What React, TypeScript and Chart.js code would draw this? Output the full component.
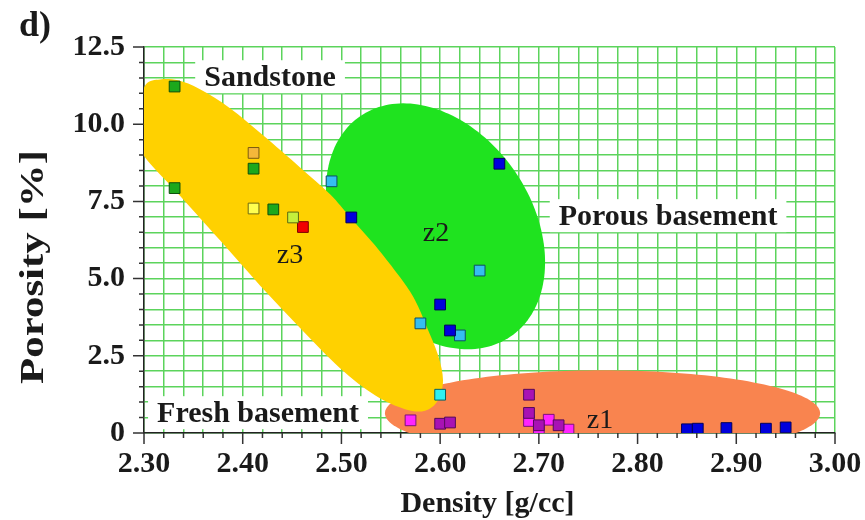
import React, { useEffect, useRef } from 'react';
import { Chart, registerables } from 'chart.js';

Chart.register(...registerables);

const FONT = '"Liberation Serif", "Times New Roman", serif';

// ---- data (density g/cc, porosity %) ----
const greenPts = [[2.331, 11.22], [2.331, 7.93], [2.411, 8.56], [2.431, 7.24]];
const orangePts = [[2.411, 9.07]];
const paleYellowPts = [[2.411, 7.27]];
const limePts = [[2.451, 6.98]];
const redPts = [[2.461, 6.67]];
const bluePts = [
  [2.51, 6.98], [2.66, 8.72], [2.60, 4.16], [2.61, 3.32],
  [2.85, 0.12], [2.861, 0.14], [2.89, 0.16], [2.93, 0.14], [2.95, 0.18],
];
const lightBluePts = [[2.49, 8.15], [2.64, 5.26], [2.58, 3.55], [2.62, 3.16]];
const cyanPts = [[2.60, 1.24]];
const purplePts = [[2.60, 0.30], [2.61, 0.34], [2.69, 1.24], [2.69, 0.65], [2.70, 0.25], [2.72, 0.25]];
const magentaPts = [[2.57, 0.41], [2.69, 0.39], [2.70, 0.12], [2.71, 0.43], [2.73, 0.11]];

// axis
const xMin = 2.3, xMax = 3.0, xStep = 0.02, xLabelStep = 0.1;
const yMin = 0, yMax = 12.5, yStep = 0.5, yLabelStep = 2.5;

// zones: centre + two conjugate semi-axis vectors, in data units
const zoneFresh = { cx: 2.7645, cy: 0.638, ax: 0.2204, ay: 0, bx: 0, by: 1.392, color: '#F9844F' };
const zonePorous = { cx: 2.5953, cy: 6.694, ax: 0.076, ay: -3.572, bx: 0.0809, by: 1.758, color: '#1FE31F' };
// sandstone zone outline (density, porosity), smoothed closed curve
const zoneSandOutline = [
  [2.2939, 10.51], [2.3020, 11.29], [2.3162, 11.45], [2.3344, 11.42], [2.3567, 11.13],
  [2.3871, 10.52], [2.4206, 9.64], [2.4581, 8.60], [2.4885, 7.73], [2.5087, 6.99],
  [2.5340, 6.08], [2.5594, 5.04], [2.5746, 4.30], [2.5867, 3.42], [2.5979, 2.52],
  [2.6029, 1.71], [2.5979, 1.06], [2.5847, 0.72], [2.5644, 0.77], [2.5340, 1.22],
  [2.4986, 2.10], [2.4581, 3.40], [2.4175, 4.78], [2.3770, 6.24], [2.3314, 7.86],
  [2.3010, 8.93], [2.2919, 9.64],
];
const sandColor = '#FFD100';

// text labels (centre x, baseline y in data units)
const boxedLabels = [
  { text: 'Sandstone', x: 2.4277, y: 11.23 },
  { text: 'Porous basement', x: 2.8309, y: 6.73 },
  { text: 'Fresh basement', x: 2.4155, y: 0.35 },
];
const zoneLabels = [
  { text: 'z1', x: 2.762, y: 0.15 },
  { text: 'z2', x: 2.5958, y: 6.23 },
  { text: 'z3', x: 2.4479, y: 5.52 },
];

const isMult = (v: number, s: number) => Math.abs(v / s - Math.round(v / s)) < 1e-6;

function smoothClosed(ctx: any, P: number[][]) {
  const n = P.length;
  ctx.beginPath();
  ctx.moveTo(P[0][0], P[0][1]);
  for (let i = 0; i < n; i++) {
    const p0 = P[(i - 1 + n) % n], p1 = P[i], p2 = P[(i + 1) % n], p3 = P[(i + 2) % n];
    const c1x = p1[0] + (p2[0] - p0[0]) / 6, c1y = p1[1] + (p2[1] - p0[1]) / 6;
    const c2x = p2[0] - (p3[0] - p1[0]) / 6, c2y = p2[1] - (p3[1] - p1[1]) / 6;
    ctx.bezierCurveTo(c1x, c1y, c2x, c2y, p2[0], p2[1]);
  }
  ctx.closePath();
}

const annotPlugin = {
  id: 'annot',
  beforeDatasetsDraw(chart: any) {
    const { ctx, chartArea: a, scales } = chart;
    const x = scales.x, y = scales.y;
    ctx.save();
    ctx.beginPath();
    ctx.rect(a.left, a.top, a.right - a.left, a.bottom - a.top);
    ctx.clip();
    // white boxes
    ctx.font = `bold 30px ${FONT}`;
    for (const l of boxedLabels) {
      const px = x.getPixelForValue(l.x), py = y.getPixelForValue(l.y);
      const w = ctx.measureText(l.text).width;
      ctx.fillStyle = '#ffffff';
      ctx.fillRect(px - w / 2 - 9, py - 26, w + 18, 33);
    }
    for (const z of [zoneFresh, zonePorous]) {
      const cx = x.getPixelForValue(z.cx), cy = y.getPixelForValue(z.cy);
      const Ax = x.getPixelForValue(z.cx + z.ax) - cx, Ay = y.getPixelForValue(z.cy + z.ay) - cy;
      const Bx = x.getPixelForValue(z.cx + z.bx) - cx, By = y.getPixelForValue(z.cy + z.by) - cy;
      ctx.beginPath();
      const N = 180;
      for (let i = 0; i <= N; i++) {
        const t = (i / N) * Math.PI * 2;
        const px = cx + Ax * Math.cos(t) + Bx * Math.sin(t);
        const py = cy + Ay * Math.cos(t) + By * Math.sin(t);
        if (i === 0) ctx.moveTo(px, py); else ctx.lineTo(px, py);
      }
      ctx.closePath();
      ctx.fillStyle = z.color;
      ctx.fill();
    }
    smoothClosed(ctx, zoneSandOutline.map(([dx, dy]) => [x.getPixelForValue(dx), y.getPixelForValue(dy)]));
    ctx.fillStyle = sandColor;
    ctx.fill();
    ctx.restore();
    ctx.save();
    ctx.fillStyle = '#1a1a1a';
    ctx.textAlign = 'center';
    ctx.textBaseline = 'alphabetic';
    ctx.font = `bold 30px ${FONT}`;
    for (const l of boxedLabels) {
      ctx.fillText(l.text, x.getPixelForValue(l.x), y.getPixelForValue(l.y));
    }
    ctx.font = `28px ${FONT}`;
    for (const l of zoneLabels) {
      ctx.fillText(l.text, x.getPixelForValue(l.x), y.getPixelForValue(l.y));
    }
    ctx.restore();
  },
  afterDraw(chart: any) {
    const { ctx, chartArea: a, scales } = chart;
    const x = scales.x, y = scales.y;
    ctx.save();
    ctx.strokeStyle = '#333';
    ctx.lineWidth = 1.5;
    ctx.beginPath();
    for (const t of x.ticks) {
      const px = x.getPixelForValue(t.value);
      const len = isMult(t.value, xLabelStep) ? 11 : 5;
      ctx.moveTo(px, a.bottom);
      ctx.lineTo(px, a.bottom + len);
    }
    for (const t of y.ticks) {
      const py = y.getPixelForValue(t.value);
      const len = isMult(t.value, yLabelStep) ? 11 : 5;
      ctx.moveTo(a.left, py);
      ctx.lineTo(a.left - len, py);
    }
    ctx.stroke();
    // titles
    ctx.fillStyle = '#1a1a1a';
    ctx.textBaseline = 'alphabetic';
    ctx.textAlign = 'center';
    ctx.font = `bold 30px ${FONT}`;
    ctx.fillText('Density [g/cc]', (a.left + a.right) / 2 - 2, 512);
    ctx.save();
    ctx.translate(43, (a.top + a.bottom) / 2 + 27);
    ctx.rotate(-Math.PI / 2);
    ctx.scale(1.3, 1);
    ctx.font = `bold 33px ${FONT}`;
    ctx.fillText('Porosity [%]', 0, 0);
    ctx.restore();
    ctx.textAlign = 'left';
    ctx.font = `bold 36px ${FONT}`;
    ctx.fillText('d)', 19, 36);
    ctx.restore();
  },
};

function ds(label: string, pts: number[][], fill: string, stroke: string) {
  return {
    label,
    data: pts.map(([px, py]) => ({ x: px, y: py })),
    backgroundColor: fill,
    borderColor: stroke,
    borderWidth: 1,
    pointStyle: 'rect',
    pointRadius: 7.6,
    pointHoverRadius: 7.6,
  };
}

export default function App() {
  const ref = useRef<HTMLCanvasElement>(null);
  useEffect(() => {
    if (!ref.current) return;
    const chart = new Chart(ref.current, {
      type: 'scatter',
      data: {
        datasets: [
          ds('green', greenPts, '#1CA81C', '#0C4F0C'),
          ds('orange', orangePts, '#F5B73A', '#7A5A10'),
          ds('paleYellow', paleYellowPts, '#FFFF50', '#6E6A10'),
          ds('lime', limePts, '#C4F03C', '#5A6A10'),
          ds('red', redPts, '#F20000', '#7A0000'),
          ds('blue', bluePts, '#0000DD', '#00005A'),
          ds('lightBlue', lightBluePts, '#35BEF0', '#0E4E66'),
          ds('cyan', cyanPts, '#2EF0F0', '#0B5F5F'),
          ds('purple', purplePts, '#A812B4', '#55085A'),
          ds('magenta', magentaPts, '#FF24FF', '#7A127A'),
        ],
      },
      options: {
        responsive: false,
        animation: false,
        events: [],
        layout: { padding: { top: 47, right: 30, left: 0, bottom: 0 } },
        plugins: { legend: { display: false }, tooltip: { enabled: false } },
        scales: {
          x: {
            type: 'linear',
            min: xMin,
            max: xMax,
            afterFit: (s: any) => { s.height = 87; },
            ticks: {
              stepSize: xStep,
              autoSkip: false,
              maxRotation: 0,
              minRotation: 0,
              padding: 2,
              color: '#1a1a1a',
              font: { family: FONT, size: 30, weight: 'bold' },
              callback: (v: any) => (isMult(Number(v), xLabelStep) ? Number(v).toFixed(2) : ''),
            },
            grid: { color: '#5CD45C', lineWidth: 1.5, tickLength: 11, tickColor: 'rgba(0,0,0,0)' },
            border: { color: '#222', width: 1.5 },
          },
          y: {
            type: 'linear',
            min: yMin,
            max: yMax,
            afterFit: (s: any) => { s.width = 144; },
            ticks: {
              stepSize: yStep,
              autoSkip: false,
              padding: 8,
              color: '#1a1a1a',
              font: { family: FONT, size: 30, weight: 'bold' },
              callback: (v: any) => {
                const n = Number(v);
                if (!isMult(n, yLabelStep)) return '';
                return n === 0 ? '0' : n.toFixed(1);
              },
            },
            grid: { color: '#5CD45C', lineWidth: 1.5, tickLength: 11, tickColor: 'rgba(0,0,0,0)' },
            border: { color: '#222', width: 1.5 },
          },
        },
      },
      plugins: [annotPlugin],
    } as any);
    return () => chart.destroy();
  }, []);
  return (
    <div style={{ position: 'fixed', left: 0, top: 0, width: 865, height: 520, background: '#fff' }}>
      <canvas ref={ref} width={865} height={520} />
    </div>
  );
}
